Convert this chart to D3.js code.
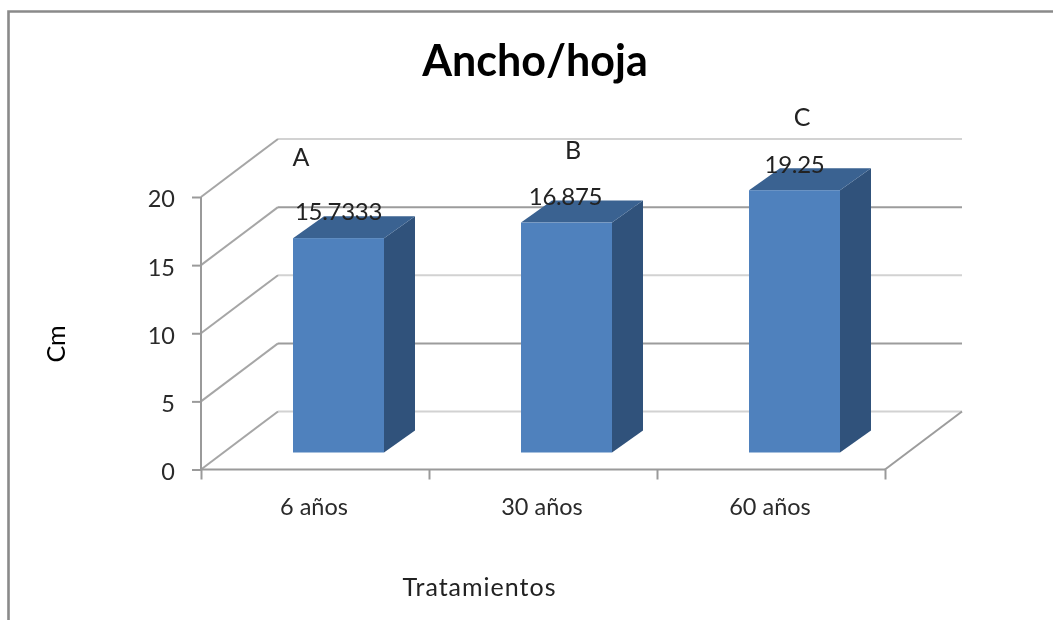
<!DOCTYPE html>
<html>
<head>
<meta charset="utf-8">
<script src="https://cdn.jsdelivr.net/npm/d3@7"></script>
<style>
  html, body { margin: 0; padding: 0; background: #fff; }
  svg { display: block; filter: blur(0.45px); }
  text { font-family: Lato, "Open Sans", sans-serif; fill: #222; }
  .axis text { font-family: Lato, "Open Sans", sans-serif; font-size: 23.5px; fill: #2a2a2a; }
  .axis line, .axis path { stroke: #9a9a9a; stroke-width: 2; }
</style>
</head>
<body>
<div id="container"></div>
<script>
/* CONSTANTS AND GLOBALS */
const width = 1053
const height = 620

// floor / wall depth of the fake 3d box, and bar depth
const depth = { x: 77, y: 58 }
const barDepth = { x: 31, y: 22 }
const barLift = 17 // front of the bars sits back from the axis
const barOffset = 92
const barWidth = 91

/* DATA */
const categories = ["6 años", "30 años", "60 años"]
const values = [15.7333, 16.875, 19.25]
const valueLabels = ["15.7333", "16.875", "19.25"]
const letters = ["A", "B", "C"]
const yTicks = [0, 5, 10, 15, 20]

// SCALES
const yScale = d3.scaleLinear().domain([0, 20]).range([469.5, 197])
const xScale = d3.scaleBand().domain(categories).range([201, 885])
const xEdges = d3.scaleLinear().domain([0, 3]).range([201, 885])

// CREATE SVG ELEMENT
const svg = d3.select("#container")
  .append("svg")
  .attr("width", width)
  .attr("height", height)

// outer frame, only top and left are visible in the crop
svg.append("path")
  .attr("d", d3.line()([[8.5, height], [8.5, 11.5], [width, 11.5]]))
  .attr("fill", "none")
  .attr("stroke", "#8a8a8a")
  .attr("stroke-width", 2.6)

// BACK WALL GRID
svg.selectAll(".grid")
  .data(yTicks)
  .join("line")
  .attr("class", "grid")
  .attr("x1", xScale.range()[0] + depth.x)
  .attr("x2", xScale.range()[1] + depth.x)
  .attr("y1", d => yScale(d) - depth.y)
  .attr("y2", d => yScale(d) - depth.y)
  .attr("stroke", (d, i) => i % 2 ? "#9c9c9c" : "#d2d2d2")
  .attr("stroke-width", 2)

// SIDE WALL LINES
svg.selectAll(".side")
  .data(yTicks)
  .join("line")
  .attr("class", "side")
  .attr("x1", xScale.range()[0])
  .attr("x2", xScale.range()[0] + depth.x)
  .attr("y1", d => yScale(d))
  .attr("y2", d => yScale(d) - depth.y)
  .attr("stroke", "#a6a6a6")
  .attr("stroke-width", 2)

// right edge of the floor
svg.append("line")
  .attr("x1", xScale.range()[1])
  .attr("x2", xScale.range()[1] + depth.x)
  .attr("y1", yScale(0))
  .attr("y2", yScale(0) - depth.y)
  .attr("stroke", "#9c9c9c")
  .attr("stroke-width", 2)

// BARS
const bars = svg.selectAll(".bar")
  .data(values)
  .join("g")
  .attr("class", "bar")
  .attr("transform", (d, i) => `translate(${xScale(categories[i]) + barOffset}, ${yScale(0) - barLift})`)

const barH = d => yScale(0) - yScale(d)

bars.append("path") // side
  .attr("fill", "#30527b")
  .attr("d", d => d3.line()([
    [barWidth, 0], [barWidth + barDepth.x, -barDepth.y],
    [barWidth + barDepth.x, -barH(d) - barDepth.y], [barWidth, -barH(d)]
  ]) + "Z")

bars.append("path") // top
  .attr("fill", "#3a6291")
  .attr("d", d => d3.line()([
    [0, -barH(d)], [barDepth.x, -barH(d) - barDepth.y],
    [barWidth + barDepth.x, -barH(d) - barDepth.y], [barWidth, -barH(d)]
  ]) + "Z")

bars.append("rect") // front
  .attr("fill", "#4f81bd")
  .attr("x", 0)
  .attr("y", d => -barH(d))
  .attr("width", barWidth)
  .attr("height", d => barH(d))

// BUILD AND CALL AXES
const yAxis = d3.axisLeft(yScale)
  .tickValues(yTicks)
  .tickSize(9)
  .tickPadding(17)

svg.append("g")
  .attr("class", "axis")
  .attr("transform", "translate(201, 0)")
  .call(yAxis)
  .call(g => g.selectAll("text").attr("dy", "0.42em"))
  .call(g => g.select(".domain").attr("d", `M0,${yScale(20)}V${yScale(0)}`))

// tick marks sit on the category edges, labels in the middle of the band
svg.append("g")
  .attr("class", "axis")
  .attr("transform", `translate(0, ${yScale(0)})`)
  .call(d3.axisBottom(xEdges).ticks(3).tickSize(10).tickFormat(""))
  .call(g => g.select(".domain").attr("d", `M201,0H885`))

svg.append("g")
  .attr("class", "axis")
  .attr("transform", `translate(-1, ${yScale(0)})`)
  .call(d3.axisBottom(xScale).tickSize(0).tickPadding(29))
  .call(g => g.select(".domain").remove())

// DATA LABELS
svg.selectAll(".valueLabel")
  .data(values)
  .join("text")
  .attr("class", "valueLabel")
  .attr("x", (d, i) => [338.5, 565.5, 794.5][i])
  .attr("y", (d, i) => [220, 205, 173][i])
  .attr("text-anchor", "middle")
  .attr("font-size", 24)
  .attr("letter-spacing", -0.3)
  .text((d, i) => valueLabels[i])

svg.selectAll(".letter")
  .data(letters)
  .join("text")
  .attr("class", "letter")
  .attr("x", (d, i) => [301, 573, 802][i])
  .attr("y", (d, i) => [166, 159, 126][i])
  .attr("text-anchor", "middle")
  .attr("font-size", 25)
  .text(d => d)

// TITLES
svg.append("text")
  .attr("x", 535)
  .attr("y", 76)
  .attr("text-anchor", "middle")
  .attr("font-size", 43)
  .attr("font-weight", "bold")
  .style("fill", "#000")
  .text("Ancho/hoja")

svg.append("text")
  .attr("x", 479.5)
  .attr("y", 596)
  .attr("text-anchor", "middle")
  .attr("font-size", 25)
  .attr("letter-spacing", 1)
  .text("Tratamientos")

svg.append("text")
  .attr("transform", "translate(65, 344) rotate(-90)")
  .attr("text-anchor", "middle")
  .attr("font-size", 25)
  .style("fill", "#000")
  .text("Cm")
</script>
</body>
</html>
